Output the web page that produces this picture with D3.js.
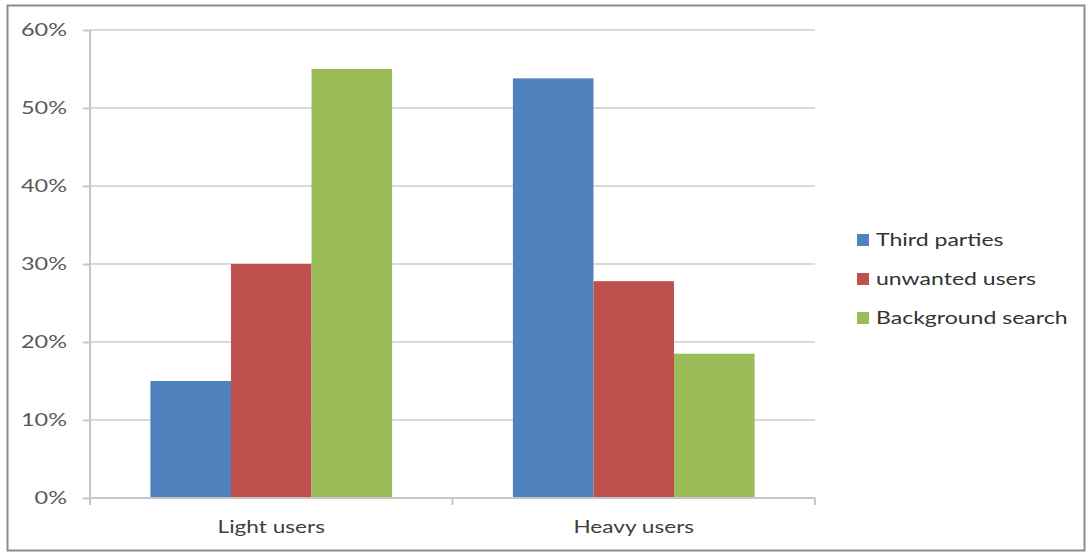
<!DOCTYPE html>
<html lang="en">
<head>
  <meta charset="UTF-8">
  <title>Chart</title>
  <style>
    body { margin: 0; background: #fff; }
    text { font-family: Lato, "Open Sans", sans-serif; }
  </style>
</head>
<body>
  <script src="https://d3js.org/d3.v7.min.js"></script>
  <script>

    const categories = ['Light users', 'Heavy users']
    const seriesNames = ['Third parties', 'unwanted users', 'Background search']
    const thirdParties = [0.15, 0.538]
    const unwantedUsers = [0.30, 0.278]
    const backgroundSearch = [0.55, 0.185]
    const yTicks = [0, 0.1, 0.2, 0.3, 0.4, 0.5, 0.6]
    const colors = ['#4F81BD', '#C0504D', '#9BBB59']

    const seriesValues = [thirdParties, unwantedUsers, backgroundSearch]

    const width = 1088, height = 554
    const plot = { left: 90, right: 815, top: 30, bottom: 498 }
    // the source image is stretched sideways, so text is widened too
    const stretch = 1.33

    const svg = d3.select('body')
      .append('svg')
      .attr('width', width)
      .attr('height', height)

    // outer frame
    svg.append('rect')
      .attr('x', 7.5).attr('y', 5.5)
      .attr('width', 1077).attr('height', 545)
      .attr('fill', '#fff')
      .attr('stroke', '#8c8c8c')
      .attr('stroke-width', 2)

    const y = d3.scaleLinear().domain([0, 0.6]).range([plot.bottom, plot.top])

    const x0 = d3.scaleBand()
      .domain(categories)
      .range([plot.left, plot.right])
      .paddingInner(1 / 3)
      .paddingOuter(1 / 6)

    const x1 = d3.scaleBand()
      .domain(seriesNames)
      .range([0, x0.bandwidth()])

    // gridlines
    svg.append('g')
      .selectAll('line')
      .data(yTicks.filter(d => d > 0))
      .join('line')
      .attr('x1', plot.left).attr('x2', plot.right)
      .attr('y1', d => y(d)).attr('y2', d => y(d))
      .attr('stroke', '#d9d9d9')
      .attr('stroke-width', 2)

    // y axis
    const yAxis = svg.append('g')
      .attr('transform', `translate(${plot.left},0)`)
      .call(d3.axisLeft(y).tickValues(yTicks).tickSize(7).tickFormat(''))
    yAxis.select('.domain').attr('stroke', '#c6c6c6').attr('stroke-width', 2)
      .attr('d', `M0,${plot.top}V${plot.bottom + 6}`)
    yAxis.selectAll('.tick line').attr('stroke', '#c6c6c6').attr('stroke-width', 2)

    svg.append('g')
      .selectAll('text')
      .data(yTicks)
      .join('text')
      .attr('transform', d => `translate(67,${y(d) + 6}) scale(${stretch + 0.05},1)`)
      .attr('text-anchor', 'end')
      .attr('fill', '#595959')
      .style('font-size', '17px')
      .text(d3.format('.0%'))

    // bars
    const rows = categories.map((c, i) => seriesNames.map((s, j) => ({ cat: c, series: s, value: seriesValues[j][i], color: colors[j] })))
    svg.append('g')
      .selectAll('g')
      .data(rows)
      .join('g')
      .attr('transform', (d, i) => `translate(${x0(categories[i])},0)`)
      .selectAll('rect')
      .data(d => d)
      .join('rect')
      .attr('x', d => x1(d.series))
      .attr('width', x1.bandwidth())
      .attr('y', d => y(d.value))
      .attr('height', d => y(0) - y(d.value))
      .attr('fill', d => d.color)

    // x axis
    const step = x0.step()
    const bounds = [plot.left].concat(categories.map(c => x0(c) + x0.bandwidth() + step * x0.paddingInner() / 2))
    bounds[bounds.length - 1] = plot.right
    svg.append('line')
      .attr('x1', plot.left).attr('x2', plot.right)
      .attr('y1', plot.bottom).attr('y2', plot.bottom)
      .attr('stroke', '#c6c6c6').attr('stroke-width', 2)
    svg.append('g')
      .selectAll('line')
      .data(bounds)
      .join('line')
      .attr('x1', d => d).attr('x2', d => d)
      .attr('y1', plot.bottom).attr('y2', plot.bottom + 7)
      .attr('stroke', '#c6c6c6').attr('stroke-width', 2)
    svg.append('g')
      .selectAll('text')
      .data(categories)
      .join('text')
      .attr('transform', d => `translate(${x0(d) + x0.bandwidth() / 2},533) scale(${stretch},1)`)
      .attr('text-anchor', 'middle')
      .attr('fill', '#404040')
      .style('font-size', '17px')
      .text(d => d)

    // legend
    const legend = svg.append('g')
      .selectAll('g')
      .data(seriesNames)
      .join('g')
      .attr('transform', (d, i) => `translate(857,${240 + i * 39})`)
    legend.append('rect')
      .attr('x', 0).attr('y', -6)
      .attr('width', 12).attr('height', 12)
      .attr('fill', (d, i) => colors[i])
    legend.append('text')
      .attr('transform', `translate(19,6) scale(${stretch - 0.05},1)`)
      .attr('fill', '#333')
      .style('font-size', '18px')
      .text(d => d)

  </script>
</body>
</html>
